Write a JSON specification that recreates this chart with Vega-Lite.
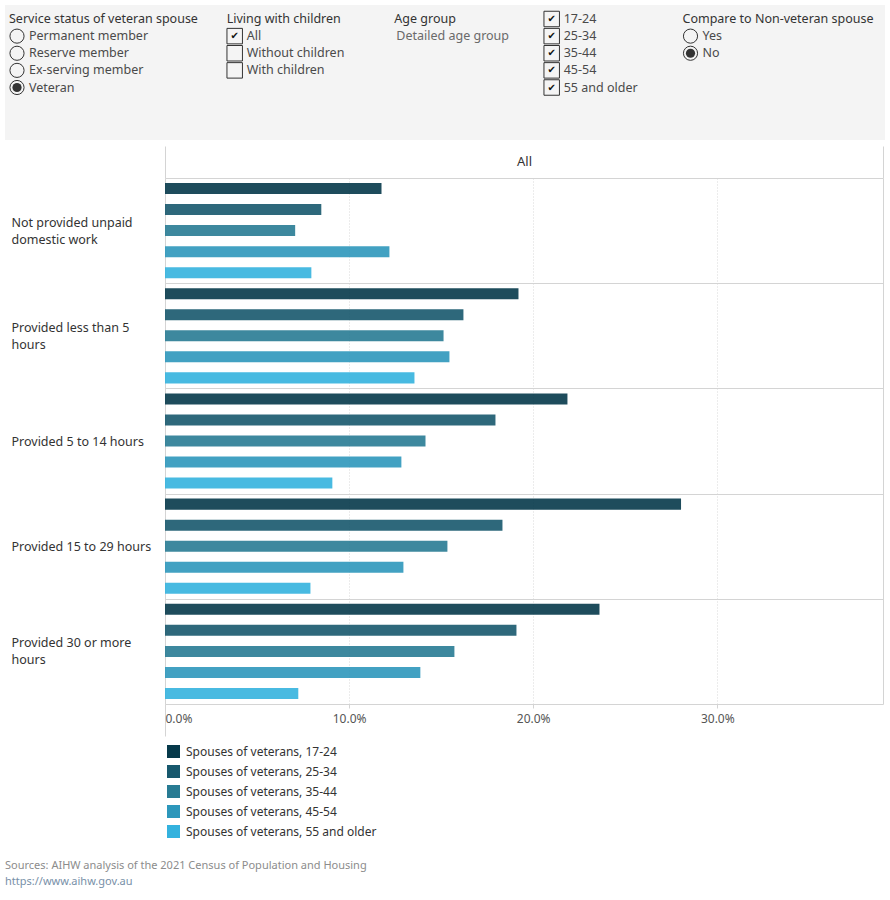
{
  "$schema": "https://vega.github.io/schema/vega-lite/v6.json",
  "padding": {"left": 5, "top": 5, "right": 5, "bottom": 5},
  "background": "white",
  "config": {
    "font": "Noto Sans",
    "view": {"stroke": null}
  },
  "title": {
    "text": "Sources: AIHW analysis of the 2021 Census of Population and Housing",
    "subtitle": "https://www.aihw.gov.au",
    "orient": "bottom",
    "anchor": "start",
    "fontSize": 11,
    "fontWeight": "normal",
    "color": "#8c8c8c",
    "subtitleFontSize": 11,
    "subtitleColor": "#7890a8",
    "subtitlePadding": 5,
    "offset": 22
  },
  "spacing": 5,
  "vconcat": [
    {
      "width": 880,
      "height": 135,
      "view": {"fill": "#f4f4f4", "stroke": null},
      "data": {
        "values": [
          {"slot": 1, "line": 0, "kind": "title", "label": "Service status of veteran spouse", "selected": false},
          {"slot": 1, "line": 1, "kind": "radio", "label": "Permanent member", "selected": false},
          {"slot": 1, "line": 2, "kind": "radio", "label": "Reserve member", "selected": false},
          {"slot": 1, "line": 3, "kind": "radio", "label": "Ex-serving member", "selected": false},
          {"slot": 1, "line": 4, "kind": "radio", "label": "Veteran", "selected": true},
          {"slot": 2, "line": 0, "kind": "title", "label": "Living with children", "selected": false},
          {"slot": 2, "line": 1, "kind": "check", "label": "All", "selected": true},
          {"slot": 2, "line": 2, "kind": "check", "label": "Without children", "selected": false},
          {"slot": 2, "line": 3, "kind": "check", "label": "With children", "selected": false},
          {"slot": 3, "line": 0, "kind": "title", "label": "Age group", "selected": false},
          {"slot": 3, "line": 1, "kind": "value", "label": "Detailed age group", "selected": false},
          {"slot": 4, "line": 0, "kind": "check", "label": "17-24", "selected": true},
          {"slot": 4, "line": 1, "kind": "check", "label": "25-34", "selected": true},
          {"slot": 4, "line": 2, "kind": "check", "label": "35-44", "selected": true},
          {"slot": 4, "line": 3, "kind": "check", "label": "45-54", "selected": true},
          {"slot": 4, "line": 4, "kind": "check", "label": "55 and older", "selected": true},
          {"slot": 5, "line": 0, "kind": "title", "label": "Compare to Non-veteran spouse", "selected": false},
          {"slot": 5, "line": 1, "kind": "radio", "label": "Yes", "selected": false},
          {"slot": 5, "line": 2, "kind": "radio", "label": "No", "selected": true}
        ]
      },
      "encoding": {
        "x": {"field": "slot", "type": "quantitative", "scale": {"domain": [1, 2, 3, 4, 5], "range": [12, 229.7, 397.3, 546.7, 685.5], "nice": false, "zero": false}, "axis": null},
        "y": {"field": "line", "type": "quantitative", "scale": {"domain": [0, 4], "range": [14, 82.5], "nice": false, "zero": false}, "axis": null}
      },
      "layer": [
        {
          "transform": [{"filter": "datum.kind == 'title'"}],
          "mark": {"type": "text", "align": "left", "baseline": "middle", "dx": -8, "fontSize": 12.5, "color": "#333333"},
          "encoding": {"text": {"field": "label"}}
        },
        {
          "transform": [{"filter": "datum.kind == 'value'"}],
          "mark": {"type": "text", "align": "left", "baseline": "middle", "dx": -6, "fontSize": 12.5, "color": "#6a6a6a"},
          "encoding": {"text": {"field": "label"}}
        },
        {
          "transform": [{"filter": "datum.kind == 'radio'"}],
          "mark": {"type": "point", "shape": "circle", "size": 200, "filled": false, "color": "#333333", "strokeWidth": 1, "opacity": 1},
          "encoding": {}
        },
        {
          "transform": [{"filter": "datum.kind == 'radio' && datum.selected"}],
          "mark": {"type": "point", "shape": "circle", "size": 85, "filled": true, "color": "#333333", "opacity": 1},
          "encoding": {}
        },
        {
          "transform": [{"filter": "datum.kind == 'check'"}],
          "mark": {"type": "point", "shape": "square", "size": 240, "filled": false, "color": "#333333", "strokeWidth": 1, "opacity": 1},
          "encoding": {}
        },
        {
          "transform": [{"filter": "datum.kind == 'check' && datum.selected"}],
          "mark": {"type": "text", "text": "✔", "font": "DejaVu Sans", "fontSize": 10, "align": "center", "baseline": "middle", "color": "#111111"},
          "encoding": {}
        },
        {
          "transform": [{"filter": "datum.kind == 'radio' || datum.kind == 'check'"}],
          "mark": {"type": "text", "align": "left", "baseline": "middle", "dx": 12, "fontSize": 12.5, "color": "#4a4a4a"},
          "encoding": {"text": {"field": "label"}}
        }
      ]
    },
    {
      "width": 878,
      "height": 526,
      "view": {"stroke": null},
      "data": {
        "values": [
          {"work": "Not provided unpaid domestic work", "series": "Spouses of veterans, 17-24", "value": 0.1176},
          {"work": "Not provided unpaid domestic work", "series": "Spouses of veterans, 25-34", "value": 0.0849},
          {"work": "Not provided unpaid domestic work", "series": "Spouses of veterans, 35-44", "value": 0.0707},
          {"work": "Not provided unpaid domestic work", "series": "Spouses of veterans, 45-54", "value": 0.1219},
          {"work": "Not provided unpaid domestic work", "series": "Spouses of veterans, 55 and older", "value": 0.0795},
          {"work": "Provided less than 5 hours", "series": "Spouses of veterans, 17-24", "value": 0.1920},
          {"work": "Provided less than 5 hours", "series": "Spouses of veterans, 25-34", "value": 0.1621},
          {"work": "Provided less than 5 hours", "series": "Spouses of veterans, 35-44", "value": 0.1513},
          {"work": "Provided less than 5 hours", "series": "Spouses of veterans, 45-54", "value": 0.1545},
          {"work": "Provided less than 5 hours", "series": "Spouses of veterans, 55 and older", "value": 0.1355},
          {"work": "Provided 5 to 14 hours", "series": "Spouses of veterans, 17-24", "value": 0.2186},
          {"work": "Provided 5 to 14 hours", "series": "Spouses of veterans, 25-34", "value": 0.1795},
          {"work": "Provided 5 to 14 hours", "series": "Spouses of veterans, 35-44", "value": 0.1415},
          {"work": "Provided 5 to 14 hours", "series": "Spouses of veterans, 45-54", "value": 0.1284},
          {"work": "Provided 5 to 14 hours", "series": "Spouses of veterans, 55 and older", "value": 0.0909},
          {"work": "Provided 15 to 29 hours", "series": "Spouses of veterans, 17-24", "value": 0.2803},
          {"work": "Provided 15 to 29 hours", "series": "Spouses of veterans, 25-34", "value": 0.1833},
          {"work": "Provided 15 to 29 hours", "series": "Spouses of veterans, 35-44", "value": 0.1534},
          {"work": "Provided 15 to 29 hours", "series": "Spouses of veterans, 45-54", "value": 0.1295},
          {"work": "Provided 15 to 29 hours", "series": "Spouses of veterans, 55 and older", "value": 0.0790},
          {"work": "Provided 30 or more hours", "series": "Spouses of veterans, 17-24", "value": 0.2360},
          {"work": "Provided 30 or more hours", "series": "Spouses of veterans, 25-34", "value": 0.1909},
          {"work": "Provided 30 or more hours", "series": "Spouses of veterans, 35-44", "value": 0.1572},
          {"work": "Provided 30 or more hours", "series": "Spouses of veterans, 45-54", "value": 0.1387},
          {"work": "Provided 30 or more hours", "series": "Spouses of veterans, 55 and older", "value": 0.0724}
        ]
      },
      "layer": [
        {
          "mark": {"type": "bar", "opacity": 0.9},
          "encoding": {
            "y": {
              "field": "work",
              "type": "nominal",
              "sort": ["Not provided unpaid domestic work", "Provided less than 5 hours", "Provided 5 to 14 hours", "Provided 15 to 29 hours", "Provided 30 or more hours"],
              "scale": {"paddingInner": 0, "paddingOuter": 0},
              "axis": {
                "orient": "left",
                "title": null,
                "domain": false,
                "ticks": false,
                "tickSize": 0,
                "tickBand": "extent",
                "minExtent": 0,
                "grid": true,
                "gridColor": "#d4d4d4",
                "labelAlign": "left",
                "labelPadding": -6,
                "labelFontSize": 12.5,
                "labelColor": "#333333",
                "labelLineHeight": 17,
                "labelLimit": 200,
                "labelOffset": {"condition": {"test": "indexof(['Not provided unpaid domestic work', 'Provided less than 5 hours', 'Provided 30 or more hours'], datum.value) >= 0", "value": -8.5}, "value": 0},
                "labelExpr": "datum.value == 'Not provided unpaid domestic work' ? ['Not provided unpaid', 'domestic work'] : datum.value == 'Provided less than 5 hours' ? ['Provided less than 5', 'hours'] : datum.value == 'Provided 30 or more hours' ? ['Provided 30 or more', 'hours'] : datum.value"
              }
            },
            "yOffset": {
              "field": "series",
              "type": "nominal",
              "sort": ["Spouses of veterans, 17-24", "Spouses of veterans, 25-34", "Spouses of veterans, 35-44", "Spouses of veterans, 45-54", "Spouses of veterans, 55 and older"],
              "scale": {"paddingInner": 0.476, "paddingOuter": 0.238}
            },
            "x": {
              "field": "value",
              "type": "quantitative",
              "scale": {"domain": [0, 0.39], "range": [160, 878], "nice": false},
              "axis": {
                "orient": "bottom",
                "title": null,
                "values": [0, 0.1, 0.2, 0.3],
                "format": ".1%",
                "labelFlush": true,
                "domain": false,
                "ticks": true,
                "tickSize": {"condition": {"test": "datum.value === 0", "value": 32}, "value": 4},
                "tickColor": "#d4d4d4",
                "grid": true,
                "gridColor": "#d8d8d8",
                "gridDash": [1, 2],
                "labelFontSize": 12,
                "labelColor": "#555555",
                "labelPadding": {"condition": {"test": "datum.value === 0", "value": -23}, "value": 5}
              }
            },
            "color": {
              "field": "series",
              "type": "nominal",
              "scale": {
                "domain": ["Spouses of veterans, 17-24", "Spouses of veterans, 25-34", "Spouses of veterans, 35-44", "Spouses of veterans, 45-54", "Spouses of veterans, 55 and older"],
                "range": ["#06394a", "#17586d", "#287b93", "#2d97bb", "#34b2de"]
              },
              "legend": {
                "orient": "none",
                "legendX": 162,
                "legendY": 740,
                "direction": "vertical",
                "title": null,
                "symbolType": "square",
                "symbolSize": 169,
                "symbolOpacity": 1,
                "symbolStrokeWidth": 0,
                "labelFontSize": 12,
                "labelColor": "#333333",
                "labelOffset": 6,
                "labelLimit": 400,
                "rowPadding": 7
              }
            }
          }
        },
        {
          "mark": {"type": "rule", "opacity": 0},
          "encoding": {
            "x": {
              "field": "value",
              "type": "quantitative",
              "axis": {
                "orient": "top",
                "values": [0, 0.39],
                "domain": false,
                "ticks": true,
                "tickSize": 32,
                "tickColor": "#d4d4d4",
                "labels": false,
                "grid": true,
                "gridColor": "#d4d4d4",
                "title": "All",
                "titleFontSize": 13,
                "titleFontWeight": "normal",
                "titleColor": "#333333",
                "titleBaseline": "alphabetic",
                "titleY": -13
              }
            }
          }
        }
      ],
      "resolve": {"axis": {"x": "independent"}}
    }
  ]
}
